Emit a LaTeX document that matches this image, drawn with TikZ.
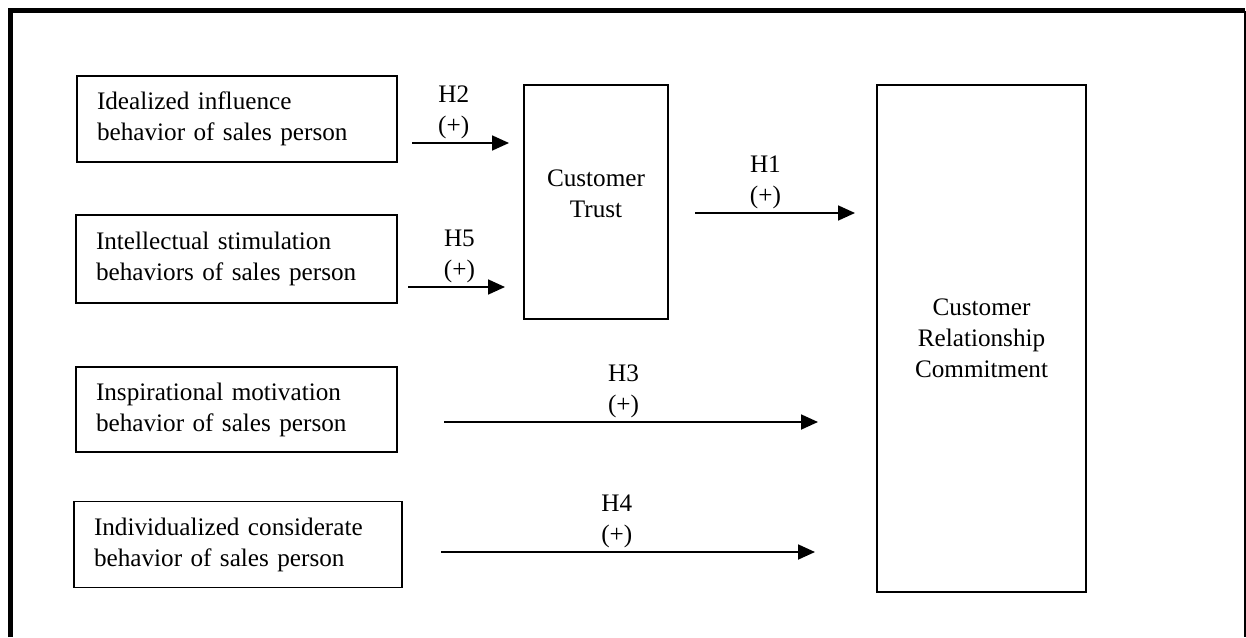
\documentclass[tikz,border=0pt]{standalone}
\usepackage{fontspec}
\setmainfont{Liberation Serif}
\usetikzlibrary{arrows.meta}

\begin{document}
\begin{tikzpicture}[x=0.5pt,y=-0.5pt,
		font=\fontsize{12.6pt}{15.5pt}\selectfont,
		varbox/.style={draw,line width=0.9pt,align=left,inner xsep=10pt,inner ysep=0pt,minimum height=43pt},
		bigbox/.style={draw,line width=0.9pt,align=center,inner sep=0pt},
		link/.style={line width=0.9pt,-{Triangle[length=8.5pt,width=7.5pt]}},
		hyp/.style={above,align=center,inner sep=1.5pt}]
		\useasboundingbox (0,0) rectangle (1246,637);
		% frame
		\draw[line width=2.6pt] (10.8,637) -- (10.8,10.8) -- (1245,10.8);
		\draw[line width=1pt] (1245,10.8) -- (1245,637);
		% behaviours of the sales person
		\node[varbox,text width=140pt] (idealized) at (237,119) {Idealized influence\\behavior of sales person};
		\node[varbox,text width=140.5pt,minimum height=44pt] (intellectual) at (236.5,259) {Intellectual stimulation\\behaviors of sales person};
		\node[varbox,text width=140.5pt,minimum height=42.5pt] (inspirational) at (236.5,409.5) {Inspirational motivation\\behavior of sales person};
		\node[varbox,text width=144pt] (individualized) at (238,544.5) {Individualized considerate\\behavior of sales person};
		% outcomes
		\node[bigbox,minimum width=72pt,minimum height=117pt,text depth=8.5pt] (trust) at (596,202) {Customer\\Trust};
		\node[bigbox,minimum width=104.5pt,minimum height=253.5pt] (commitment) at (981.5,338.5) {Customer\\Relationship\\Commitment};
		% hypotheses
		\coordinate (h2s) at (412,143);
		\coordinate (h2e) at (509,143);
		\coordinate (h5s) at (408,287);
		\coordinate (h5e) at (505,287);
		\coordinate (h1s) at (695,213);
		\coordinate (h1e) at (855,213);
		\coordinate (h3s) at (444,422);
		\coordinate (h3e) at (818,422);
		\coordinate (h4s) at (441,552);
		\coordinate (h4e) at (815,552);
		\draw[link] (h2s) -- node[hyp,pos=0.43] {H2\\(+)} (h2e);
		\draw[link] (h5s) -- node[hyp,pos=0.53] {H5\\(+)} (h5e);
		\draw[link] (h1s) -- node[hyp,pos=0.44] {H1\\(+)} (h1e);
		\draw[link] (h3s) -- node[hyp,pos=0.48] {H3\\(+)} (h3e);
		\draw[link] (h4s) -- node[hyp,pos=0.47] {H4\\(+)} (h4e);
	\end{tikzpicture}
\end{document}
